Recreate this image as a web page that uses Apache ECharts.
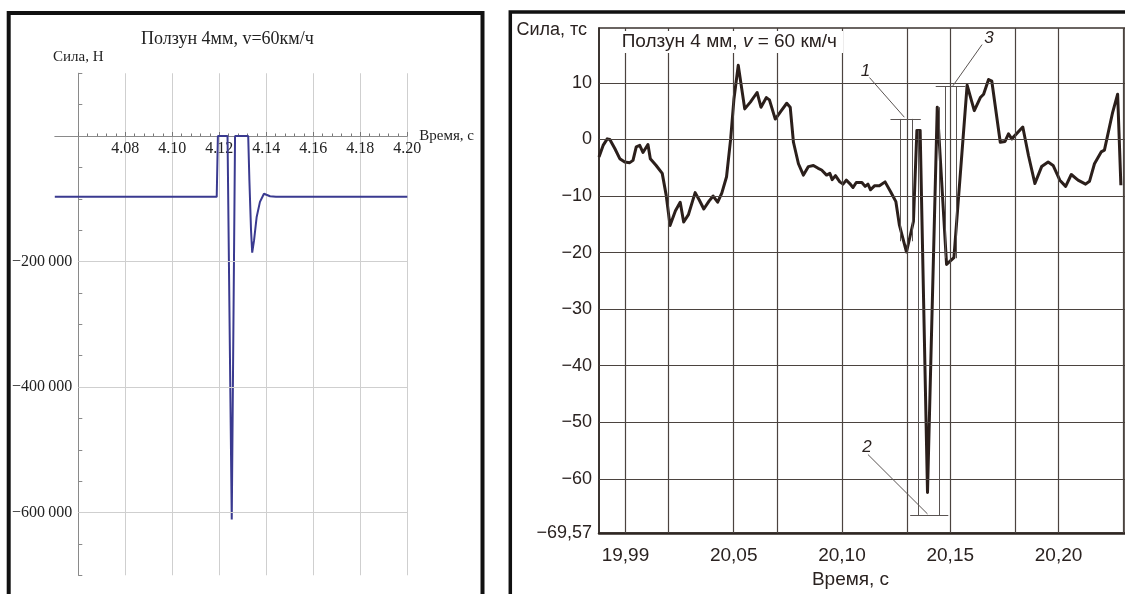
<!DOCTYPE html>
<html>
<head>
<meta charset="utf-8">
<script src="https://cdn.jsdelivr.net/npm/echarts@6/dist/echarts.min.js"></script>
<style>
  html, body { margin: 0; padding: 0; background: #fff; }
  #chart { width: 1125px; height: 594px; }
</style>
</head>
<body>
<div id="chart"></div>
<script>
// ---- Left panel: computed contact force, Н ----
const simTime  = [4.05, 4.1189, 4.1194, 4.1235, 4.1253, 4.1267, 4.1323, 4.1328, 4.1335, 4.1340, 4.1348, 4.1359, 4.1373, 4.1390, 4.1416, 4.1441, 4.20];
const simForce = [-97000, -97000, 0, 0, -611000, 0, 0, -70000, -150000, -186000, -166000, -129000, -105000, -92000, -96000, -97000, -97000];
const simXTicks  = [4.08, 4.10, 4.12, 4.14, 4.16, 4.18, 4.20];
const simXLabels = ['4.08', '4.10', '4.12', '4.14', '4.16', '4.18', '4.20'];
const simYTicks  = [-200000, -400000, -600000];
const simYLabels = ['\u2212200\u2009000', '\u2212400\u2009000', '\u2212600\u2009000'];

// ---- Right panel: measured force, тс ----
const measTime = [
  19.9878, 19.9897, 19.9916, 19.9928, 19.9951, 19.9974, 19.9997, 20.0020, 20.0035, 20.0050,
  20.0066, 20.0081, 20.0104, 20.0115, 20.0142, 20.0170, 20.0188, 20.0206, 20.0231, 20.0253,
  20.0269, 20.0291, 20.0322, 20.0341, 20.0362, 20.0386, 20.0405, 20.0426, 20.0445, 20.0467,
  20.0486, 20.0501, 20.0521, 20.0551, 20.0577, 20.0608, 20.0626, 20.0651, 20.0665, 20.0692,
  20.0720, 20.0745, 20.0761, 20.0776, 20.0799, 20.0822, 20.0845, 20.0868, 20.0890, 20.0906,
  20.0929, 20.0944, 20.0955, 20.0970, 20.0990, 20.1005, 20.1020, 20.1036, 20.1051, 20.1066,
  20.1092, 20.1107, 20.1120, 20.1132, 20.1150, 20.1173, 20.1199, 20.1224, 20.1249, 20.1265,
  20.1298, 20.1330, 20.1346, 20.1361, 20.1395, 20.1440, 20.1483, 20.1517, 20.1578, 20.1611,
  20.1639, 20.1654, 20.1677, 20.1692, 20.1731, 20.1753, 20.1769, 20.1784, 20.1835, 20.1861,
  20.1891, 20.1922, 20.1952, 20.1975, 20.2006, 20.2033, 20.2059, 20.2090, 20.2125, 20.2143,
  20.2166, 20.2197, 20.2212, 20.2250, 20.2273, 20.2288
];
const measForce = [
  -3.1, -1.05, 0.1, 0, -1.6, -3.4, -4.0, -4.1, -3.7, -1.3,
  -1.05, -2.3, -0.9, -3.4, -4.6, -6.0, -9.8, -15.2, -12.6, -11.1,
  -14.6, -13.3, -9.4, -10.7, -12.3, -10.9, -10.0, -11.1, -9.5, -6.6,
  0.1, 7.1, 13.1, 5.4, 6.6, 8.3, 5.7, 7.4, 7.0, 3.6,
  5.1, 6.4, 5.7, -0.5, -4.3, -6.3, -4.8, -4.6, -5.1, -5.4,
  -6.3, -6.0, -7.1, -6.4, -7.5, -7.9, -7.2, -7.8, -8.5, -7.6,
  -7.6, -8.3, -7.9, -8.9, -8.2, -8.2, -7.5, -9.2, -11.0, -15.1,
  -19.9, -14.5, 1.6, 1.6, -62.4, 5.7, -22.1, -20.9, 9.6, 5.1,
  7.4, 8.0, 10.6, 10.3, -0.5, -0.35, 1.0, 0.1, 2.2, -2.8,
  -7.8, -4.8, -4.0, -4.6, -7.2, -8.3, -6.2, -7.2, -7.9, -7.4,
  -4.3, -2.2, -1.9, 4.8, 8.0, -8.1
];
const measXGrid   = [20.000, 20.025, 20.050, 20.075, 20.100, 20.125, 20.150, 20.175, 20.200, 20.225];
const measYGrid   = [-60, -50, -40, -30, -20, -10, 0, 10];
const measXTicks  = [20.00, 20.05, 20.10, 20.15, 20.20];
const measXLabels = ['19,99', '20,05', '20,10', '20,15', '20,20'];
const measYTicks  = [-69.57, -60, -50, -40, -30, -20, -10, 0, 10];
const measYLabels = ['\u221269,57', '\u221260', '\u221250', '\u221240', '\u221230', '\u221220', '\u221210', '0', '10'];

// Dimension brackets (1 - first dip, 2 - main spike, 3 - rebound) and their leaders
const bracketSegments = [
  [[20.1224, 3.63], [20.1364, 3.63]],
  [[20.1269, 3.63], [20.1269, -18]],
  [[20.1326, 3.63], [20.1326, -18]],
  [[20.1433, 9.36], [20.1570, 9.36]],
  [[20.1476, 9.36], [20.1476, -21]],
  [[20.1528, 9.36], [20.1528, -21]],
  [[20.1315, -66.4], [20.1491, -66.4]],
  [[20.1352, -66.4], [20.1352, 1.6]],
  [[20.1448, -66.4], [20.1448, 5.7]],
  [[20.1127, 10.94], [20.1288, 3.93]],
  [[20.1647, 16.77], [20.1512, 9.47]],
  [[20.1120, -55.7], [20.1395, -66.2]]
];
const bracketNames = ['1', '3', '2'];
const bracketLabelAt = [[20.1108, 12.1], [20.1679, 17.8], [20.1116, -54.4]];

const serif = '"Liberation Serif", "DejaVu Serif", serif';
const sans = '"Liberation Sans", "DejaVu Sans", sans-serif';

function pick(ticks, labels) {
  return function (v) {
    for (let i = 0; i < ticks.length; i++) {
      if (Math.abs(v - ticks[i]) < 1e-6) return labels[i];
    }
    return '';
  };
}

const chart = echarts.init(document.getElementById('chart'));

// Left panel geometry: grid 0 holds the curve (time axis from 4.05),
// grid 1 holds the force axis and the lattice (from 4.06),
// grid 3 is the strip above zero whose bottom edge carries the time ticks.
const option = {
  animation: false,
  backgroundColor: '#fff',
  title: [
    {
      text: 'Ползун 4мм, v=60км/ч',
      left: 141, top: 28, padding: 0,
      textStyle: { fontFamily: serif, fontSize: 18, fontWeight: 'normal', color: '#222', lineHeight: 22 }
    },
    {
      text: '{a|Ползун 4 мм, }{i|v}{a| = 60 км/ч}',
      left: 615.7, top: 29.5, padding: [1, 6, 2, 6],
      backgroundColor: '#fff',
      textStyle: {
        fontWeight: 'normal',
        rich: {
          a: { fontFamily: sans, fontSize: 19, fontWeight: 'normal', color: '#2a2220', lineHeight: 22 },
          i: { fontFamily: sans, fontSize: 19, fontWeight: 'normal', color: '#2a2220', fontStyle: 'italic', lineHeight: 22 }
        }
      }
    }
  ],
  grid: [
    { left: 54.8, top: 73.25, width: 352.5, height: 502, containLabel: false },
    { left: 78.3, top: 73.25, width: 329, height: 502, containLabel: false },
    { left: 599, top: 28, width: 530, height: 509, show: true, borderColor: '#3a322e', borderWidth: 1.5, containLabel: false },
    { left: 78.3, top: 73.25, width: 329, height: 62.75, containLabel: false }
  ],
  xAxis: [
    {
      gridIndex: 0, type: 'value', min: 4.05, max: 4.20,
      axisLine: { onZero: true, lineStyle: { color: '#8a8a8a', width: 1 } },
      axisTick: { show: false }, axisLabel: { show: false }, splitLine: { show: false },
      name: 'Время, с', nameLocation: 'end', nameGap: 12,
      nameTextStyle: { fontFamily: serif, fontSize: 15, color: '#222', verticalAlign: 'middle', padding: [0, 0, 3, 0] }
    },
    {
      gridIndex: 1, type: 'value', min: 4.06, max: 4.20, interval: 0.02,
      axisLine: { show: false }, axisTick: { show: false }, axisLabel: { show: false },
      splitLine: { show: true, lineStyle: { color: '#cfcfcf', width: 1 } }
    },
    {
      gridIndex: 2, type: 'value', min: 19.9878, max: 20.2307,
      axisLine: { onZero: false, lineStyle: { color: '#2e2622', width: 2.5 } },
      axisTick: { show: false },
      axisLabel: { customValues: measXTicks, formatter: pick(measXTicks, measXLabels), fontFamily: sans, fontSize: 19, color: '#2a2220', margin: 13 },
      splitLine: { show: false },
      name: 'Время, с', nameLocation: 'middle', nameGap: 37,
      nameTextStyle: { fontFamily: sans, fontSize: 19, color: '#2a2220', padding: [0, 23, 0, 0] }
    },
    {
      gridIndex: 3, type: 'value', min: 4.06, max: 4.20, interval: 0.02,
      axisLine: { show: false, onZero: false },
      axisTick: { show: true, inside: true, length: 4, lineStyle: { color: '#777', width: 1 } },
      minorTick: { show: true, splitNumber: 5, length: 2.5, lineStyle: { color: '#777', width: 1 } },
      axisLabel: { formatter: pick(simXTicks, simXLabels), fontFamily: serif, fontSize: 16, color: '#222', margin: 5 },
      splitLine: { show: false }
    }
  ],
  yAxis: [
    { gridIndex: 0, type: 'value', min: -700000, max: 100000, show: false },
    {
      gridIndex: 1, type: 'value', min: -700000, max: 100000, interval: 50000,
      axisLine: { show: true, onZero: false, lineStyle: { color: '#8a8a8a', width: 1 } },
      axisTick: { show: true, inside: true, length: 4, lineStyle: { color: '#8a8a8a', width: 1 } },
      axisLabel: { formatter: pick(simYTicks, simYLabels), fontFamily: serif, fontSize: 16, color: '#222', margin: 6 },
      splitLine: { show: false },
      name: 'Сила, Н', nameLocation: 'end', nameGap: 16,
      nameTextStyle: { fontFamily: serif, fontSize: 15, color: '#222', verticalAlign: 'middle' }
    },
    {
      gridIndex: 2, type: 'value', min: -69.57, max: 19.7,
      axisLine: { show: true, onZero: false, lineStyle: { color: '#2e2622', width: 1.5 } },
      axisTick: { show: false },
      axisLabel: { customValues: measYTicks, formatter: pick(measYTicks, measYLabels), fontFamily: sans, fontSize: 18, color: '#2a2220', margin: 7 },
      splitLine: { show: false },
      name: 'Сила, тс', nameLocation: 'end', nameGap: -2,
      nameTextStyle: { fontFamily: sans, fontSize: 18, color: '#2a2220', align: 'right', verticalAlign: 'middle', padding: [0, 12, 0, 0] }
    },
    { gridIndex: 3, type: 'value', min: 0, max: 100000, show: false }
  ],
  series: [
    // horizontal grid of the left panel
    {
      type: 'line', xAxisIndex: 1, yAxisIndex: 1, z: 1, silent: true,
      symbol: 'none', data: [[4.06, -700000]],
      markLine: {
        silent: true, symbol: 'none', label: { show: false },
        lineStyle: { color: '#cfcfcf', width: 1, type: 'solid' },
        data: simYTicks.map(v => ({ yAxis: v }))
      }
    },
    {
      name: 'Сила, Н', type: 'line', xAxisIndex: 0, yAxisIndex: 0, z: 3,
      symbol: 'none', lineStyle: { color: '#3a3a90', width: 2 },
      data: simTime.map((t, i) => [t, simForce[i]])
    },
    // grid and dimension brackets of the right panel
    {
      type: 'line', xAxisIndex: 2, yAxisIndex: 2, z: 1, silent: true,
      symbol: 'none', data: [[20.0, -69.57]],
      markLine: {
        silent: true, symbol: 'none', label: { show: false },
        data: measXGrid.map(v => ({ xAxis: v, lineStyle: { color: '#4b433f', width: 1.2, type: 'solid' } }))
          .concat(measYGrid.map(v => ({ yAxis: v, lineStyle: { color: '#4b433f', width: 1.2, type: 'solid' } })))
          .concat(bracketSegments.map(s => [
            { coord: s[0], lineStyle: { color: '#5a5452', width: 1, type: 'solid' } },
            { coord: s[1] }
          ]))
      },
      markPoint: {
        silent: true, symbol: 'circle', symbolSize: 0,
        itemStyle: { color: 'rgba(0,0,0,0)' },
        label: { show: true, position: 'inside', formatter: '{b}', fontFamily: sans, fontSize: 17, fontStyle: 'italic', color: '#2a2220' },
        data: bracketNames.map((n, i) => ({ name: n, coord: bracketLabelAt[i] }))
      }
    },
    {
      name: 'Сила, тс', type: 'line', xAxisIndex: 2, yAxisIndex: 2, z: 3,
      symbol: 'none', lineStyle: { color: '#2b1f1b', width: 3, join: 'round' },
      data: measTime.map((t, i) => [t, measForce[i]])
    }
  ],
  graphic: [
    { type: 'rect', silent: true, shape: { x: 8.7, y: 13, width: 473.8, height: 640 }, style: { fill: 'none', stroke: '#111', lineWidth: 4 } },
    { type: 'rect', silent: true, shape: { x: 510.3, y: 12, width: 700, height: 640 }, style: { fill: 'none', stroke: '#111', lineWidth: 3.5 } }
  ]
};

chart.setOption(option);
</script>
</body>
</html>
